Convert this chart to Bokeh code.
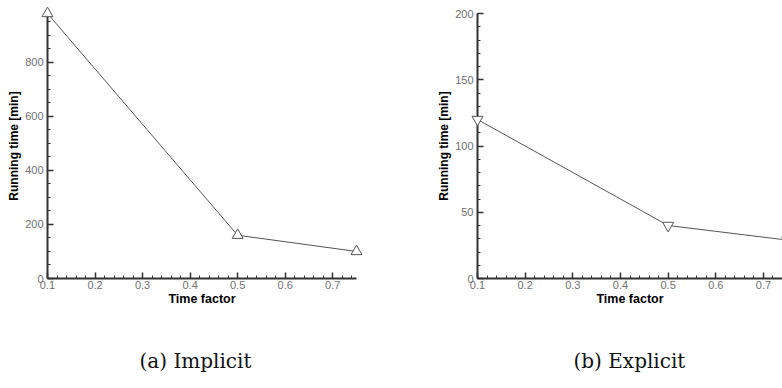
from bokeh.plotting import figure
from bokeh.layouts import row, column
from bokeh.models import FixedTicker, Range1d, Label
from bokeh.embed import file_html
from bokeh.resources import INLINE

# ---- data ----
time_factor = [0.1, 0.5, 0.75]
implicit_min = [980, 160, 100]
explicit_min = [120, 40, 29]

x_major = [0.1, 0.2, 0.3, 0.4, 0.5, 0.6, 0.7]
x_minor = [round(0.1 + 0.02 * i, 2) for i in range(0, 33)]
y_major_imp = [0, 200, 400, 600, 800]
y_minor_imp = [50 * i for i in range(0, 20)]
y_major_exp = [0, 50, 100, 150, 200]
y_minor_exp = [10 * i for i in range(0, 21)]

x_label = "Time factor"
y_label = "Running time [min]"
captions = ["(a) Implicit", "(b) Explicit"]

AXIS_COLOR = "#333333"
TICKLBL_COLOR = "#707070"
LINE_COLOR = "#555555"


def style(p, xmaj, xmin, ymaj, ymin):
    p.outline_line_color = None
    p.xgrid.visible = False
    p.ygrid.visible = False
    p.background_fill_color = "white"
    p.border_fill_color = "white"
    for ax in (p.xaxis[0], p.yaxis[0]):
        ax.axis_line_color = AXIS_COLOR
        ax.axis_line_width = 2
        ax.major_tick_line_color = AXIS_COLOR
        ax.minor_tick_line_color = AXIS_COLOR
        ax.major_tick_line_width = 1.5
        ax.minor_tick_line_width = 1
        ax.major_tick_in = 6
        ax.major_tick_out = 0
        ax.minor_tick_in = 3
        ax.minor_tick_out = 0
        ax.major_label_text_font = "Liberation Sans"
        ax.major_label_text_font_size = "11px"
        ax.major_label_text_color = TICKLBL_COLOR
        ax.axis_label_text_font = "Liberation Sans"
        ax.axis_label_text_font_style = "bold"
        ax.axis_label_text_color = "black"
    p.xaxis[0].ticker = FixedTicker(ticks=xmaj, minor_ticks=xmin)
    p.yaxis[0].ticker = FixedTicker(ticks=ymaj, minor_ticks=ymin)
    p.xaxis[0].axis_label = x_label
    p.yaxis[0].axis_label = y_label
    p.xaxis[0].axis_label_text_font_size = "12.5px"
    p.yaxis[0].axis_label_text_font_size = "12px"
    p.xaxis[0].major_label_standoff = 2
    p.xaxis[0].axis_label_standoff = 0
    p.yaxis[0].major_label_standoff = 4
    p.yaxis[0].axis_label_standoff = 1


def caption_fig(text, x_left):
    c = figure(width=391, height=78, output_backend="svg", toolbar_location=None,
               x_axis_location=None, y_axis_location=None,
               min_border_left=0, min_border_right=0, min_border_top=0, min_border_bottom=0,
               x_range=Range1d(0, 1), y_range=Range1d(0, 1))
    c.outline_line_color = None
    c.xgrid.visible = False
    c.ygrid.visible = False
    c.add_layout(Label(x=x_left, y=28, x_units="screen", y_units="screen", text=text,
                       text_font="DejaVu Serif", text_font_size="20px",
                       text_align="left", text_baseline="middle", text_color="#111111"))
    return c


# ---- left panel: implicit ----
p1 = figure(width=391, height=310, output_backend="svg", toolbar_location=None,
            x_range=Range1d(0.1, 0.75), y_range=Range1d(0, max(implicit_min)),
            min_border_left=47, min_border_right=35, min_border_top=13,
            min_border_bottom=32)
style(p1, x_major, x_minor, y_major_imp, y_minor_imp)
p1.line(time_factor, implicit_min, line_color=LINE_COLOR, line_width=1, level="overlay")
p1.scatter(time_factor, implicit_min, marker="triangle", size=11,
           fill_color="white", line_color=LINE_COLOR, line_width=1, level="overlay")

# ---- right panel: explicit ----
p2 = figure(width=391, height=310, output_backend="svg", toolbar_location=None,
            x_range=Range1d(0.1, 0.74), y_range=Range1d(0, 200),
            min_border_left=86, min_border_right=0, min_border_top=13,
            min_border_bottom=32)
style(p2, x_major, x_minor, y_major_exp, y_minor_exp)
p2.line(time_factor, explicit_min, line_color=LINE_COLOR, line_width=1, level="overlay")
p2.scatter(time_factor, explicit_min, marker="inverted_triangle", size=11,
           fill_color="white", line_color=LINE_COLOR, line_width=1, level="overlay")

c1 = caption_fig(captions[0], 139)
c2 = caption_fig(captions[1], 182)

layout = column(row(p1, p2, spacing=0), row(c1, c2, spacing=0), spacing=0)
open("out.html", "w").write(file_html(layout, INLINE))
